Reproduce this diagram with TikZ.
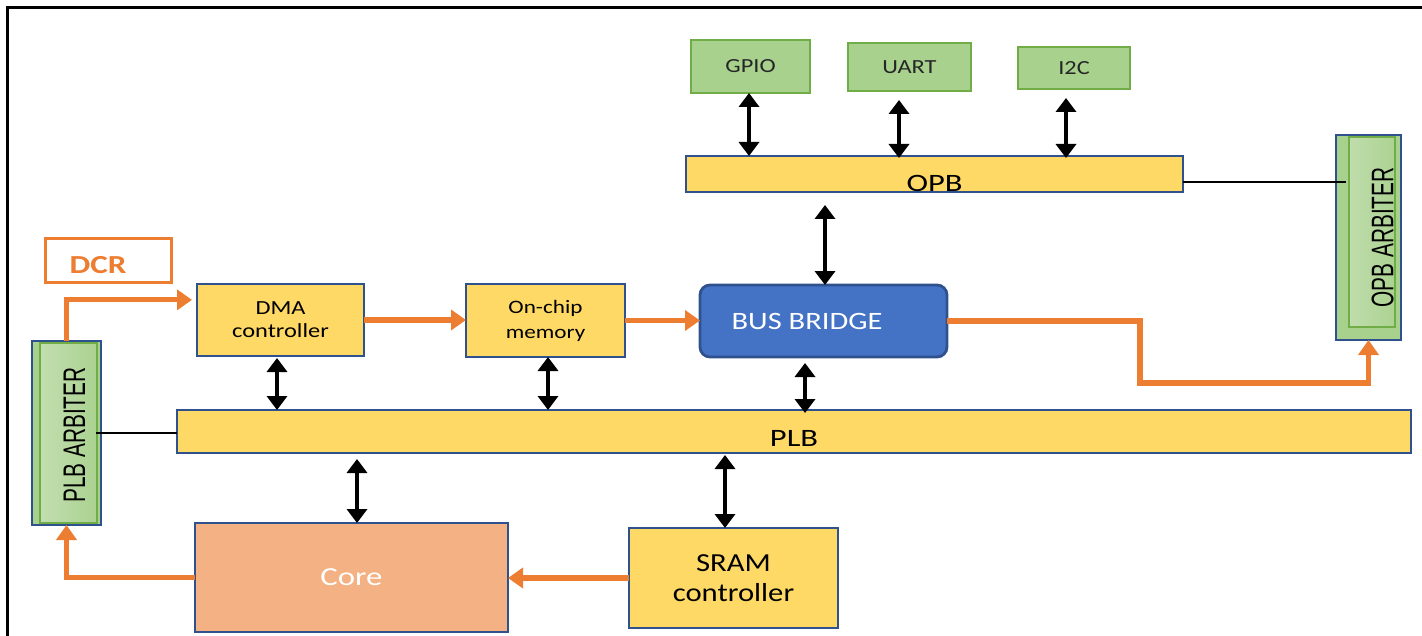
\documentclass[tikz,border=0pt]{standalone}
\usepackage{fontspec}
\setmainfont{Carlito}
\newfontfamily\arbfont{Liberation Sans}
\usetikzlibrary{arrows.meta,calc}

\definecolor{bordblue}{HTML}{2F528F}
\definecolor{busyellow}{HTML}{FFD966}
\definecolor{perigreen}{HTML}{A9D18E}
\definecolor{perigreenlt}{HTML}{C5E0B4}
\definecolor{periedge}{HTML}{70AD47}
\definecolor{sigorange}{HTML}{ED7D31}
\definecolor{corefill}{HTML}{F4B183}
\definecolor{bridgeblue}{HTML}{4472C4}

% horizontally widened text
\newcommand{\wtxt}[2][1.22]{\scalebox{#1}[1]{#2}}
% vertical arbiter caption
\newcommand{\arbtxt}[1]{\rotatebox{90}{\scalebox{1}[1.5]{\arbfont\fontsize{10.4}{12}\selectfont #1}}}

\tikzset{
  blk/.style={draw=bordblue, line width=1.4pt, fill=busyellow, inner sep=0pt,
              outer sep=0pt, align=center, text=black},
  peri/.style={draw=periedge, line width=0.8pt, fill=perigreen, inner sep=0pt,
               outer sep=0pt, text=black!85, font=\fontsize{10}{12}\selectfont},
  arb/.style={draw=bordblue, line width=1.4pt, fill=perigreen, inner sep=0pt, outer sep=0pt},
  dbl/.style={{Triangle[length=7pt,width=10pt]}-{Triangle[length=7pt,width=10pt]},
              line width=2.4pt, black},
  oarr/.style={-{Triangle[length=7.5pt,width=10pt]}, line width=2.6pt, sigorange},
  link/.style={line width=0.6pt, black},
}

\begin{document}
\begin{tikzpicture}[x=0.5pt,y=-0.5pt]
\useasboundingbox (0,0) rectangle (1422,636);

% outer frame (top and left edges)
\draw[line width=1.5pt] (7.5,636) -- (7.5,7.5) -- (1422,7.5);

% DCR tag
\node[draw=sigorange, line width=1.5pt, fill=white, inner sep=0pt, outer sep=0pt,
      minimum width=63pt, minimum height=22pt,
      label={[xshift=-5pt,yshift=-2.5pt,text=sigorange,font=\bfseries\fontsize{13}{15}\selectfont]center:\wtxt[1.27]{DCR}}]
      (dcr) at (108,260) {};

% arbiters
\node[arb, minimum width=34.5pt, minimum height=92pt,
      path picture={\draw[periedge, line width=0.8pt, left color=perigreenlt, right color=perigreen]
        ([xshift=4pt,yshift=-1pt]path picture bounding box.north west) rectangle
        ([xshift=-2pt,yshift=1pt]path picture bounding box.south east);},
      label={[xshift=4pt,yshift=-1pt]center:\arbtxt{PLB ARBITER}}]
      (parb) at (66.5,433) {};
\node[arb, minimum width=32.5pt, minimum height=102.5pt,
      path picture={\draw[periedge, line width=0.8pt, left color=perigreenlt, right color=perigreen]
        ([xshift=6.5pt,yshift=-1pt]path picture bounding box.north west) rectangle
        ([xshift=-3pt,yshift=6.5pt]path picture bounding box.south east);},
      label={[xshift=7pt]center:\arbtxt{OPB ARBITER}}]
      (oarb) at (1368.5,237.5) {};

% peripherals on the OPB
\node[peri, minimum width=59.5pt, minimum height=26.5pt] (gpio) at (750.5,66.5) {\wtxt{GPIO}};
\node[peri, minimum width=61.5pt, minimum height=24pt]   (uart) at (909.5,67)   {\wtxt{UART}};
\node[peri, minimum width=56pt,   minimum height=21pt]   (iic)  at (1074,68)    {\wtxt{I2C}};

% buses
\node[blk, minimum width=248.5pt, minimum height=18pt,
      label={[yshift=-4.5pt,font=\fontsize{12.5}{15}\selectfont]center:\wtxt[1.3]{OPB}}]
      (opb) at (934.5,174) {};
\node[blk, minimum width=617pt, minimum height=21.5pt,
      label={[yshift=-3.25pt,font=\fontsize{12.5}{15}\selectfont]center:\wtxt[1.3]{PLB}}]
      (plb) at (794,431.5) {};

% PLB masters / slaves
\node[blk, minimum width=83.5pt, minimum height=36pt, font=\fontsize{10}{11.5}\selectfont]
      (dma) at (280.5,320) {\wtxt{DMA}\\\wtxt{controller}};
\node[blk, minimum width=79.5pt, minimum height=36.5pt, font=\fontsize{9.5}{12.5}\selectfont]
      (ocm) at (545.5,320.5) {\wtxt{On-chip}\\\wtxt{memory}};
\node[draw=bordblue, line width=1.4pt, fill=bridgeblue, rounded corners=5pt, inner sep=0pt,
      outer sep=0pt, minimum width=123.5pt, minimum height=36pt,
      label={[xshift=-8.25pt,text=white,font=\fontsize{12.5}{15}\selectfont]center:\wtxt{BUS BRIDGE}}]
      (bb) at (823.5,321) {};
\node[blk, fill=corefill, text=white, minimum width=156.5pt, minimum height=54.5pt,
      font=\fontsize{13}{15}\selectfont]
      (core) at (351.5,577.5) {\wtxt[1.26]{Core}};
\node[blk, minimum width=104.5pt, minimum height=50pt, font=\fontsize{13}{15}\selectfont]
      (sram) at (733.5,578) {\wtxt[1.18]{SRAM}\\\wtxt[1.18]{controller}};

% bidirectional bus attachments
\draw[dbl] (749,0 |- gpio.south) -- (749,0 |- opb.north);
\draw[dbl, shorten <=4.5pt, shorten >=-1pt] (899,0 |- uart.south) -- (899,0 |- opb.north);
\draw[dbl, shorten <=4.5pt, shorten >=-1pt] (1066,0 |- iic.south) -- (1066,0 |- opb.north);
\draw[dbl, shorten <=6.5pt] (825,0 |- opb.south) -- (825,0 |- bb.north);
\draw[dbl, shorten <=1pt] (277,0 |- dma.south) -- (277,0 |- plb.north);
\draw[dbl] (548,0 |- ocm.south) -- (548,0 |- plb.north);
\draw[dbl, shorten <=3pt, shorten >=-1.5pt] (805,0 |- bb.south) -- (805,0 |- plb.north);
\draw[dbl, shorten <=3pt] (357,0 |- plb.south) -- (357,0 |- core.north);
\draw[dbl, shorten <=1pt] (725,0 |- plb.south) -- (725,0 |- sram.north);

% arbiter links
\draw[link, shorten >=-5pt] (opb.east |- 0,182) -- (oarb.west |- 0,182);
\draw[link, shorten <=-2.5pt] (parb.east) -- (parb.east -| plb.west);

% signal flow
\draw[oarr, shorten >=2.5pt] (parb.north) |- ($(dma.north west)!0.22!(dma.south west)$);
\draw[oarr] (dma.east) -- (dma.east -| ocm.west);
\draw[oarr] (ocm.east) -- (ocm.east -| bb.west);
\coordinate (bend) at (1140,383);
\draw[oarr] (bb.east) -| (bend) -| (oarb.south);
\draw[oarr] (sram.west) -- (sram.west -| core.east);
\draw[oarr] (core.west) -| (parb.south);
\end{tikzpicture}
\end{document}
